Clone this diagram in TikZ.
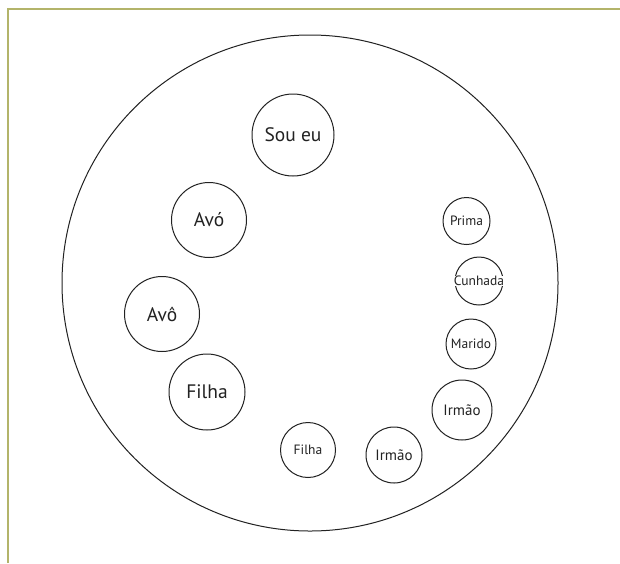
\documentclass[tikz,border=0pt]{standalone}
\usepackage{fontspec}
\setmainfont{PT Sans}
\definecolor{frameol}{HTML}{B3B46A}
\definecolor{ink}{HTML}{222222}
\begin{document}
\begin{tikzpicture}[x=1pt,y=-1pt,
  ring/.style={circle,draw=ink,line width=1pt,inner sep=0pt,text=ink},
  big/.style={ring,font=\fontsize{19.5}{22}\selectfont},
  mid/.style={ring,font=\fontsize{15}{17}\selectfont},
  small/.style={ring,font=\fontsize{13.5}{15}\selectfont}]
\useasboundingbox (0,0) rectangle (620,563);
\fill[white] (0,0) rectangle (620,563);
\draw[frameol,line width=1.5pt] (8,563) -- (8,9) -- (620,9);
\node[circle,draw=ink,line width=1pt,minimum size=496pt,inner sep=0pt] (outer) at (310,283) {};
\node[big,minimum size=82pt] (soueu) at (293,135) {Sou eu};
\node[big,minimum size=75pt] (avo) at (209,220) {Avó};
\node[big,minimum size=75pt] (avoo) at (162,314) {Avô};
\node[big,minimum size=76pt] (filhaA) at (207,392) {Filha};
\node[small,minimum size=55pt] (filhaB) at (308,450) {Filha};
\node[mid,minimum size=56pt] (irmaoA) at (394,455) {Irmão};
\node[mid,minimum size=60pt] (irmaoB) at (462,410) {Irmão};
\node[small,minimum size=50pt] (marido) at (471,344) {Marido};
\node[ring,minimum size=48pt] (cunhada) at (479,281) {};
\node[fill=white,inner sep=0.5pt,text=ink,font=\fontsize{13.5}{15}\selectfont] (cunhadat) at (cunhada.center) {Cunhada};
\node[small,minimum size=47pt] (prima) at (466.5,221) {Prima};
\end{tikzpicture}
\end{document}
